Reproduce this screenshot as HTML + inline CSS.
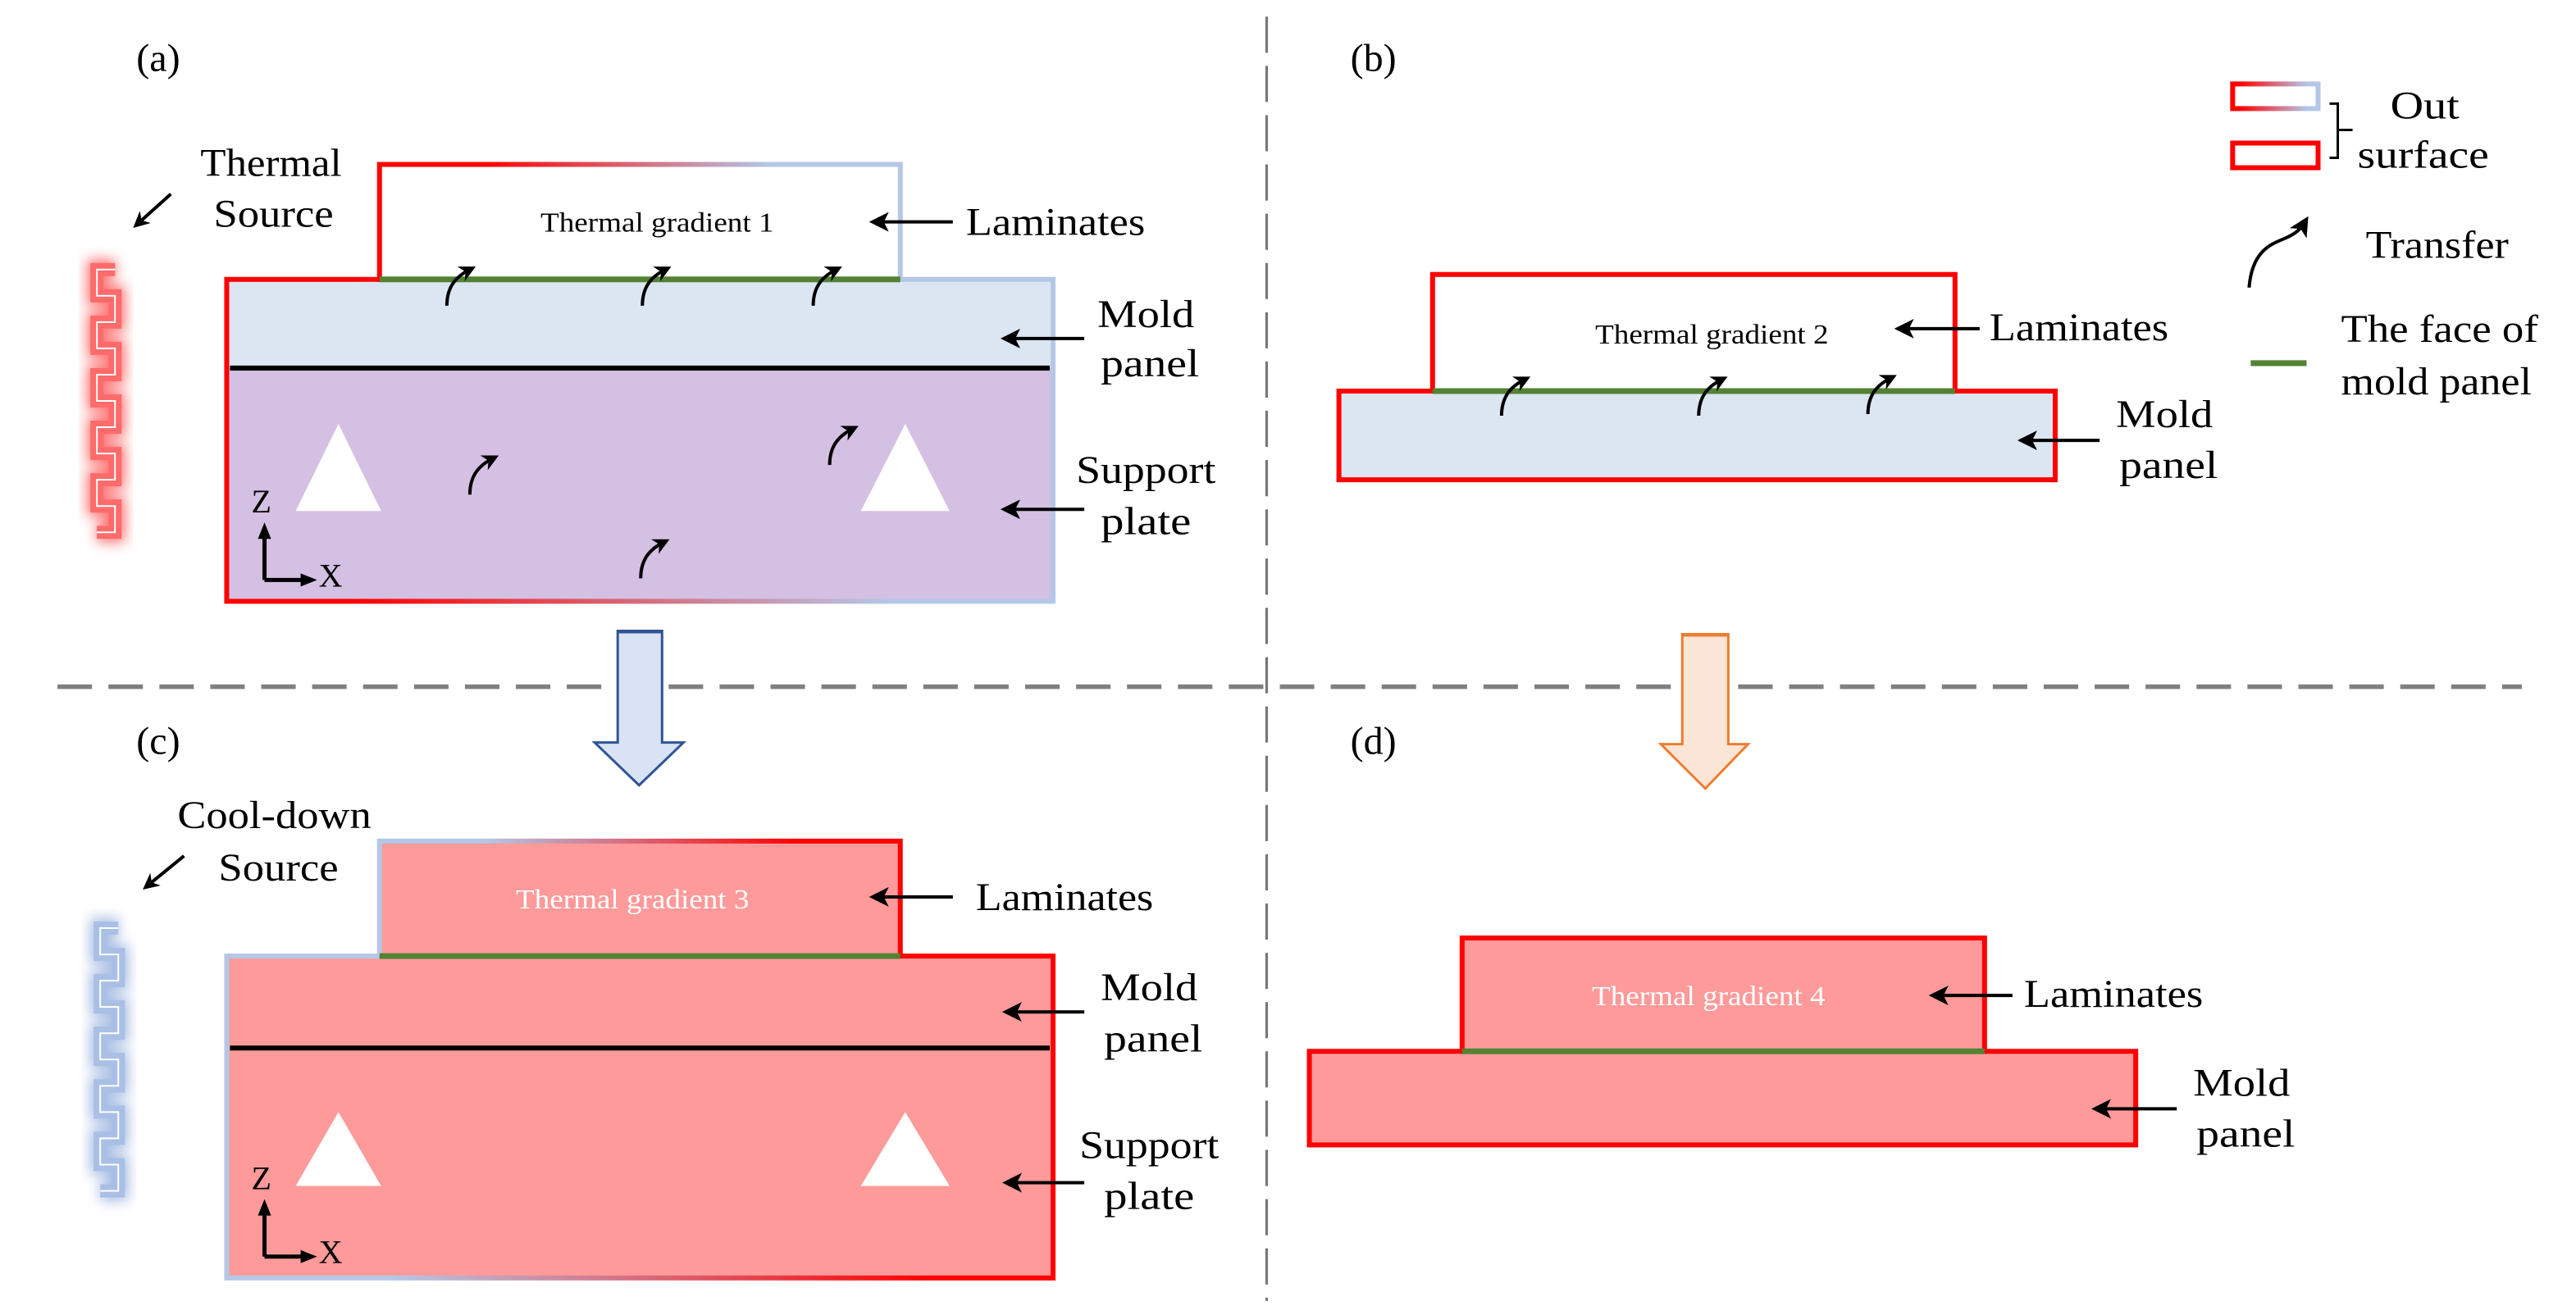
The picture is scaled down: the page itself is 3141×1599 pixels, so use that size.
<!DOCTYPE html>
<html><head><meta charset="utf-8">
<style>
html,body{margin:0;padding:0;background:#fff;}
svg{display:block;}
text{font-family:"Liberation Serif",serif;fill:#000;}
</style></head>
<body>
<svg width="3141" height="1599" viewBox="0 0 1568 798" xmlns="http://www.w3.org/2000/svg">
<defs>
  <linearGradient id="gA" gradientUnits="userSpaceOnUse" x1="138" y1="0" x2="641" y2="0">
    <stop offset="0.15" stop-color="#ff0000"/><stop offset="0.8" stop-color="#b4c7e7"/>
  </linearGradient>
  <linearGradient id="gAl" gradientUnits="userSpaceOnUse" x1="231" y1="0" x2="548" y2="0">
    <stop offset="0.2" stop-color="#ff0000"/><stop offset="0.75" stop-color="#b4c7e7"/>
  </linearGradient>
  <linearGradient id="gC" gradientUnits="userSpaceOnUse" x1="138" y1="0" x2="641" y2="0">
    <stop offset="0.2" stop-color="#b4c7e7"/><stop offset="0.85" stop-color="#ff0000"/>
  </linearGradient>
  <linearGradient id="gCl" gradientUnits="userSpaceOnUse" x1="231" y1="0" x2="548" y2="0">
    <stop offset="0.2" stop-color="#b4c7e7"/><stop offset="0.8" stop-color="#ff0000"/>
  </linearGradient>
  <linearGradient id="gL" gradientUnits="userSpaceOnUse" x1="1358" y1="0" x2="1412" y2="0">
    <stop offset="0.1" stop-color="#ff0000"/><stop offset="0.85" stop-color="#b4c7e7"/>
  </linearGradient>
  <marker id="ah" markerWidth="10" markerHeight="10" refX="6" refY="5" orient="auto" markerUnits="userSpaceOnUse">
    <path d="M0,0 L10,5 L0,10 L3,5 Z" fill="#000"/>
  </marker>
  <marker id="ah2" markerWidth="12" markerHeight="12" refX="8" refY="6" orient="auto" markerUnits="userSpaceOnUse">
    <path d="M0,0 L12,6 L0,12 L3,6 Z" fill="#000"/>
  </marker>
  <filter id="blur" x="-1" y="-0.2" width="3" height="1.4"><feGaussianBlur stdDeviation="4"/></filter>
  <path id="wave" d="M70,0 H59 V16 H70 V32 H59 V48 H70 V64 H59 V80 H70 V96 H59 V112 H70 V128 H59 V144 H70 V160 H59" fill="none"/>
  <path id="ca" d="M0,0 C0,-12 6,-18 14,-22" fill="none" stroke="#000" stroke-width="2" marker-end="url(#ah)"/>
</defs>

<!-- dashed separators -->
<line x1="771" y1="10" x2="771" y2="792" stroke="#777" stroke-width="1.6" stroke-dasharray="22,8"/>
<line x1="35" y1="418" x2="1535" y2="418" stroke="#808080" stroke-width="2.8" stroke-dasharray="21,10"/>

<!-- ===== (a) ===== -->
<text x="83" y="43" font-size="24">(a)</text>
<text x="122" y="107" font-size="24" textLength="86" lengthAdjust="spacingAndGlyphs">Thermal</text>
<text x="130" y="138" font-size="24" textLength="73" lengthAdjust="spacingAndGlyphs">Source</text>
<line x1="104" y1="118" x2="84" y2="136" stroke="#000" stroke-width="2" marker-end="url(#ah)"/>
<!-- glowing wave -->
<g transform="translate(0,164)">
  <use href="#wave" stroke="#ff5050" stroke-width="12" filter="url(#blur)" opacity="0.8"/>
  <use href="#wave" stroke="#ff6a6a" stroke-width="8"/>
  <use href="#wave" stroke="#fff" stroke-width="1"/>
</g>
<!-- mold + support -->
<rect x="138" y="170" width="503" height="54" fill="#dce6f2"/>
<rect x="138" y="224" width="503" height="142" fill="#d4c0e2"/>
<rect x="138" y="170" width="503" height="196" fill="none" stroke="url(#gA)" stroke-width="3"/>
<line x1="140" y1="224" x2="639" y2="224" stroke="#000" stroke-width="3"/>
<!-- laminates -->
<rect x="231" y="100" width="317" height="70" fill="#fff" stroke="url(#gAl)" stroke-width="3"/>
<line x1="231" y1="170" x2="548" y2="170" stroke="#548235" stroke-width="3.5"/>
<text x="400" y="141" font-size="17" text-anchor="middle" textLength="142" lengthAdjust="spacingAndGlyphs">Thermal gradient 1</text>
<use href="#ca" x="272" y="186"/>
<use href="#ca" x="391" y="186"/>
<use href="#ca" x="495" y="186"/>
<use href="#ca" x="286" y="301"/>
<use href="#ca" x="505" y="283"/>
<use href="#ca" x="390" y="352"/>
<polygon points="206,258 232,311 180,311" fill="#fff"/>
<polygon points="551,258 578,311 524,311" fill="#fff"/>
<text x="153" y="312" font-size="20">Z</text>
<path d="M161,353 V324 M161,353 H186" stroke="#000" stroke-width="2.5" fill="none"/>
<polygon points="161,318 157,328 165,328" fill="#000"/>
<polygon points="193,353 183,349 183,357" fill="#000"/>
<text x="194" y="357" font-size="20">X</text>
<text x="588" y="143" font-size="24" textLength="109" lengthAdjust="spacingAndGlyphs">Laminates</text>
<line x1="580" y1="135" x2="533" y2="135" stroke="#000" stroke-width="2" marker-end="url(#ah2)"/>
<text x="668" y="199" font-size="24" textLength="59" lengthAdjust="spacingAndGlyphs">Mold</text>
<text x="670" y="229" font-size="24" textLength="60" lengthAdjust="spacingAndGlyphs">panel</text>
<line x1="660" y1="206" x2="613" y2="206" stroke="#000" stroke-width="2" marker-end="url(#ah2)"/>
<text x="655" y="294" font-size="24" textLength="85" lengthAdjust="spacingAndGlyphs">Support</text>
<text x="670" y="325" font-size="24" textLength="55" lengthAdjust="spacingAndGlyphs">plate</text>
<line x1="660" y1="310" x2="613" y2="310" stroke="#000" stroke-width="2" marker-end="url(#ah2)"/>

<!-- blue arrow -->
<polygon points="376,384 403,384 403,452 416,452 389,478 362,452 376,452" fill="#dae3f3" stroke="#2f5597" stroke-width="1.5"/>
<line x1="376" y1="384.5" x2="403" y2="384.5" stroke="#2f5597" stroke-width="2"/>

<!-- ===== (b) ===== -->
<text x="822" y="43" font-size="24">(b)</text>
<rect x="815" y="238" width="436" height="54" fill="#dce6f2" stroke="#ff0000" stroke-width="3"/>
<rect x="872" y="167" width="318" height="71" fill="#fff" stroke="#ff0000" stroke-width="3"/>
<line x1="872" y1="238" x2="1190" y2="238" stroke="#548235" stroke-width="3.5"/>
<text x="1042" y="209" font-size="17" text-anchor="middle" textLength="142" lengthAdjust="spacingAndGlyphs">Thermal gradient 2</text>
<use href="#ca" x="914" y="253"/>
<use href="#ca" x="1034" y="253"/>
<use href="#ca" x="1137" y="252"/>
<text x="1211" y="207" font-size="24" textLength="109" lengthAdjust="spacingAndGlyphs">Laminates</text>
<line x1="1205" y1="200" x2="1157" y2="200" stroke="#000" stroke-width="2" marker-end="url(#ah2)"/>
<text x="1288" y="260" font-size="24" textLength="59" lengthAdjust="spacingAndGlyphs">Mold</text>
<text x="1290" y="291" font-size="24" textLength="60" lengthAdjust="spacingAndGlyphs">panel</text>
<line x1="1278" y1="268" x2="1232" y2="268" stroke="#000" stroke-width="2" marker-end="url(#ah2)"/>
<!-- legend -->
<rect x="1359" y="51" width="52" height="15" fill="#fff" stroke="url(#gL)" stroke-width="3"/>
<rect x="1359" y="87" width="52" height="15" fill="#fff" stroke="#ff0000" stroke-width="3"/>
<path d="M1418,63 H1423 V96 H1418 M1423,79 H1432" stroke="#000" stroke-width="1.5" fill="none"/>
<text x="1455" y="72" font-size="24" textLength="42" lengthAdjust="spacingAndGlyphs">Out</text>
<text x="1435" y="102" font-size="24" textLength="80" lengthAdjust="spacingAndGlyphs">surface</text>
<path d="M1369,175 C1371,150 1385,148 1393,144 C1397,142 1400,140 1403,135" fill="none" stroke="#000" stroke-width="2" marker-end="url(#ah2)"/>
<text x="1440" y="157" font-size="24" textLength="87" lengthAdjust="spacingAndGlyphs">Transfer</text>
<line x1="1370" y1="221" x2="1404" y2="221" stroke="#548235" stroke-width="3.5"/>
<text x="1425" y="208" font-size="24" textLength="120" lengthAdjust="spacingAndGlyphs">The face of</text>
<text x="1425" y="240" font-size="24" textLength="116" lengthAdjust="spacingAndGlyphs">mold panel</text>

<!-- orange arrow -->
<polygon points="1024,386 1052,386 1052,453 1064,453 1038,480 1011,453 1024,453" fill="#fbe5d6" stroke="#ed7d31" stroke-width="1.5"/>
<line x1="1024" y1="386.5" x2="1052" y2="386.5" stroke="#ed7d31" stroke-width="2"/>

<!-- ===== (c) ===== -->
<text x="83" y="459" font-size="24">(c)</text>
<text x="108" y="504" font-size="24" textLength="118" lengthAdjust="spacingAndGlyphs">Cool-down</text>
<text x="133" y="536" font-size="24" textLength="73" lengthAdjust="spacingAndGlyphs">Source</text>
<line x1="112" y1="521" x2="90" y2="539" stroke="#000" stroke-width="2" marker-end="url(#ah)"/>
<g transform="translate(2,565)">
  <use href="#wave" stroke="#8faadc" stroke-width="12" filter="url(#blur)" opacity="0.8"/>
  <use href="#wave" stroke="#a9bfe6" stroke-width="8"/>
  <use href="#wave" stroke="#fff" stroke-width="1"/>
</g>
<rect x="138" y="582" width="503" height="196" fill="#fe9a9a" stroke="url(#gC)" stroke-width="3"/>
<line x1="140" y1="638" x2="639" y2="638" stroke="#000" stroke-width="3"/>
<rect x="231" y="512" width="317" height="70" fill="#fe9a9a" stroke="url(#gCl)" stroke-width="3"/>
<line x1="231" y1="582" x2="548" y2="582" stroke="#548235" stroke-width="3.5"/>
<text x="385" y="553" font-size="17" text-anchor="middle" fill="#fff" style="fill:#fff" textLength="142" lengthAdjust="spacingAndGlyphs">Thermal gradient 3</text>
<polygon points="206,677 232,722 180,722" fill="#fff"/>
<polygon points="551,677 578,722 524,722" fill="#fff"/>
<text x="153" y="724" font-size="20">Z</text>
<path d="M161,765 V738 M161,765 H186" stroke="#000" stroke-width="2.5" fill="none"/>
<polygon points="161,730 157,740 165,740" fill="#000"/>
<polygon points="193,765 183,761 183,769" fill="#000"/>
<text x="194" y="769" font-size="20">X</text>
<text x="594" y="554" font-size="24" textLength="108" lengthAdjust="spacingAndGlyphs">Laminates</text>
<line x1="580" y1="546" x2="533" y2="546" stroke="#000" stroke-width="2" marker-end="url(#ah2)"/>
<text x="670" y="609" font-size="24" textLength="59" lengthAdjust="spacingAndGlyphs">Mold</text>
<text x="672" y="640" font-size="24" textLength="60" lengthAdjust="spacingAndGlyphs">panel</text>
<line x1="660" y1="616" x2="614" y2="616" stroke="#000" stroke-width="2" marker-end="url(#ah2)"/>
<text x="657" y="705" font-size="24" textLength="85" lengthAdjust="spacingAndGlyphs">Support</text>
<text x="672" y="736" font-size="24" textLength="55" lengthAdjust="spacingAndGlyphs">plate</text>
<line x1="660" y1="720" x2="614" y2="720" stroke="#000" stroke-width="2" marker-end="url(#ah2)"/>

<!-- ===== (d) ===== -->
<text x="822" y="459" font-size="24">(d)</text>
<rect x="797" y="640" width="503" height="57" fill="#fe9a9a" stroke="#ff0000" stroke-width="3"/>
<rect x="890" y="571" width="318" height="69" fill="#fe9a9a" stroke="#ff0000" stroke-width="3"/>
<line x1="890" y1="640" x2="1208" y2="640" stroke="#548235" stroke-width="3.5"/>
<text x="1040" y="612" font-size="17" text-anchor="middle" style="fill:#fff" textLength="142" lengthAdjust="spacingAndGlyphs">Thermal gradient 4</text>
<text x="1232" y="613" font-size="24" textLength="109" lengthAdjust="spacingAndGlyphs">Laminates</text>
<line x1="1225" y1="606" x2="1178" y2="606" stroke="#000" stroke-width="2" marker-end="url(#ah2)"/>
<text x="1335" y="667" font-size="24" textLength="59" lengthAdjust="spacingAndGlyphs">Mold</text>
<text x="1337" y="698" font-size="24" textLength="60" lengthAdjust="spacingAndGlyphs">panel</text>
<line x1="1325" y1="675" x2="1277" y2="675" stroke="#000" stroke-width="2" marker-end="url(#ah2)"/>
</svg>
</body></html>
